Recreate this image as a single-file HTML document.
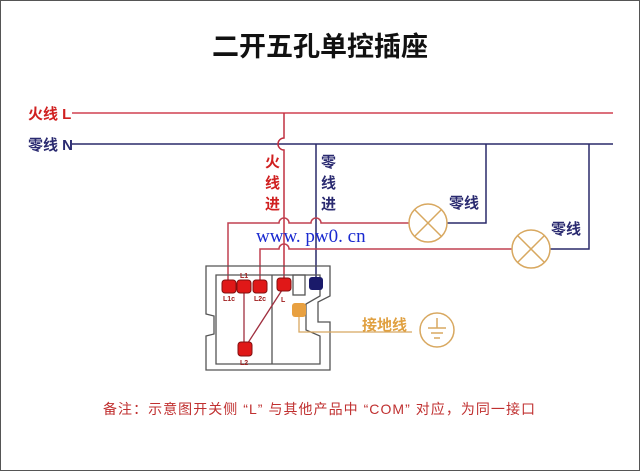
<!DOCTYPE html>
<html><head><meta charset="utf-8"><style>
html,body{margin:0;padding:0;background:#fff;}
svg{display:block;}
text{font-family:"Liberation Sans","Noto Sans CJK SC",sans-serif;font-weight:bold;}
</style></head><body>
<svg width="640" height="471" viewBox="0 0 640 471" xmlns="http://www.w3.org/2000/svg">
<rect x="0.5" y="0.5" width="639" height="470" fill="#fff" stroke="#555" stroke-width="1"/>
<text x="320" y="56" font-size="27" text-anchor="middle" fill="#111">二开五孔单控插座</text>
<text x="28" y="119" font-size="15" fill="#d02020">火线 L</text>
<text x="28" y="150" font-size="15" fill="#2a2a70">零线 N</text>
<line x1="72" y1="113" x2="613" y2="113" stroke="#d04050" stroke-width="1.5"/>
<path d="M72 144 H613" stroke="#2a2a6a" stroke-width="1.5" fill="none"/>
<!-- fire wire down, bulge left at N -->
<path d="M284 113 V138 A6 6 0 0 0 284 150 V284" stroke="#c03040" stroke-width="1.5" fill="none"/>
<path d="M316 144 V280" stroke="#2a2a6a" stroke-width="1.5" fill="none"/>
<!-- lamp wires with hops -->
<path d="M228 284 V223 H279 A5 5 0 0 1 289 223 H311 A5 5 0 0 1 321 223 H409" stroke="#c04050" stroke-width="1.5" fill="none"/>
<path d="M260 284 V249 H279 A5 5 0 0 1 289 249 H512" stroke="#c04050" stroke-width="1.5" fill="none"/>
<path d="M447 223 H486 V144" stroke="#2a2a6a" stroke-width="1.5" fill="none"/>
<path d="M550 249 H589 V144" stroke="#2a2a6a" stroke-width="1.5" fill="none"/>
<g stroke="#d8a860" stroke-width="1.5" fill="#fff">
<circle cx="428" cy="223" r="19"/>
<line x1="415" y1="210" x2="441" y2="236"/><line x1="441" y1="210" x2="415" y2="236"/>
<circle cx="531" cy="249" r="19"/>
<line x1="518" y1="236" x2="544" y2="262"/><line x1="544" y1="236" x2="518" y2="262"/>
</g>
<text x="449" y="208" font-size="15" fill="#2a2a70">零线</text>
<text x="551" y="234" font-size="15" fill="#2a2a70">零线</text>
<text x="265" y="167" font-size="15" fill="#d02020">火</text>
<text x="265" y="188" font-size="15" fill="#d02020">线</text>
<text x="265" y="209" font-size="15" fill="#d02020">进</text>
<text x="321" y="167" font-size="15" fill="#2a2a70">零</text>
<text x="321" y="188" font-size="15" fill="#2a2a70">线</text>
<text x="321" y="209" font-size="15" fill="#2a2a70">进</text>
<text x="256" y="242" font-size="19" fill="#1a2ad0" style="font-family:'Liberation Serif',serif;font-weight:normal">www. pw0. cn</text>
<g fill="none" stroke="#555" stroke-width="1.3">
<path d="M206 266 H330 V296 L318 302 V322 H330 V370 H206 V336 L214 334 V316 L206 314 Z"/>
<path d="M216 275 H320 V296 L306 304 V330 L320 336 V364 H216 Z"/>
<line x1="272" y1="275" x2="272" y2="364"/>
<rect x="293" y="275" width="12" height="20"/>
</g>
<path d="M244 287 V349 L284 287" stroke="#a03040" stroke-width="1.3" fill="none"/>
<g fill="#e01818" stroke="#801010" stroke-width="1">
<rect x="222" y="280" width="14" height="13" rx="3"/>
<rect x="237" y="280" width="14" height="13" rx="3"/>
<rect x="253" y="280" width="14" height="13" rx="3"/>
<rect x="277" y="278" width="14" height="13" rx="3"/>
<rect x="238" y="342" width="14" height="14" rx="3"/>
</g>
<rect x="309" y="277" width="14" height="13" rx="3" fill="#1a1a6a"/>
<rect x="292" y="303" width="14" height="14" rx="3" fill="#e8a040"/>
<g font-size="7" fill="#a02020" style="font-weight:normal">
<text x="223" y="301">L1c</text><text x="240" y="278">L1</text><text x="254" y="301">L2c</text><text x="281" y="302">L</text><text x="240" y="365">L2</text>
</g>
<path d="M299 317 V332 H412" stroke="#d8a860" stroke-width="1.3" fill="none"/>
<text x="362" y="330" font-size="15" fill="#e0a040">接地线</text>
<circle cx="437" cy="330" r="17" fill="none" stroke="#d8a860" stroke-width="1.5"/>
<g stroke="#d8a860" stroke-width="1.5"><line x1="437" y1="318" x2="437" y2="328"/><line x1="428" y1="328" x2="446" y2="328"/><line x1="431" y1="333" x2="443" y2="333"/><line x1="434" y1="338" x2="440" y2="338"/></g>
<text x="103" y="414" font-size="14" textLength="432" lengthAdjust="spacing" fill="#c03030" style="font-weight:normal">备注：示意图开关侧 “L” 与其他产品中 “COM” 对应，为同一接口</text>
</svg>
</body></html>
